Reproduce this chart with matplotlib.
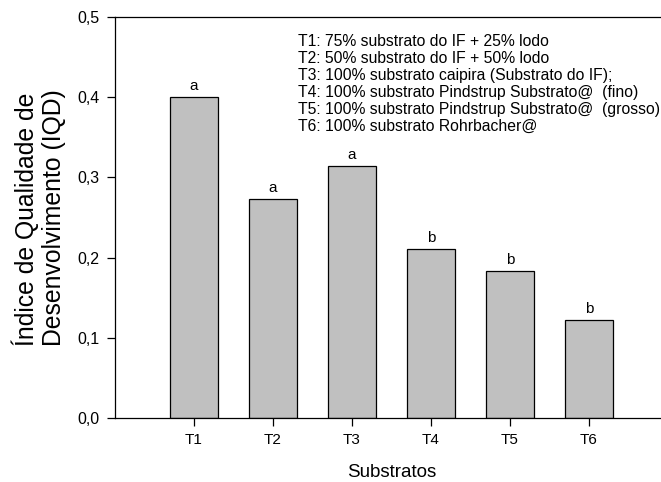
import matplotlib
matplotlib.use("Agg")
import matplotlib.pyplot as plt
import numpy as np

plt.rcParams["font.family"] = ["Liberation Sans", "DejaVu Sans"]

# data
categories = ["T1", "T2", "T3", "T4", "T5", "T6"]
iqd = [0.400, 0.273, 0.314, 0.211, 0.183, 0.122]
letters = ["a", "a", "a", "b", "b", "b"]
legend_lines = [
    "T1: 75% substrato do IF + 25% lodo",
    "T2: 50% substrato do IF + 50% lodo",
    "T3: 100% substrato caipira (Substrato do IF);",
    "T4: 100% substrato Pindstrup Substrato@  (fino)",
    "T5: 100% substrato Pindstrup Substrato@  (grosso)",
    "T6: 100% substrato Rohrbacher@",
]

fig = plt.figure(figsize=(6.61, 4.82), dpi=100)
ax = fig.add_axes([115 / 661, 64 / 482, 553 / 661, 401 / 482])

x = np.arange(1, len(categories) + 1)
ax.bar(x, iqd, width=0.6, color="#c0c0c0", edgecolor="black", linewidth=0.9)

for xi, v, l in zip(x, iqd, letters):
    ax.text(xi, v + 0.005, l, ha="center", va="bottom", fontsize=11)

ax.set_xlim(0, 7)
ax.set_ylim(0, 0.5)
ax.set_xticks(x)
ax.set_xticklabels(categories, fontsize=11)
yt = np.arange(0, 0.51, 0.1)
ax.set_yticks(yt)
ax.set_yticklabels([f"{t:.1f}".replace(".", ",") for t in yt], fontsize=11.5)
ax.tick_params(direction="out", length=6, width=0.9, pad=5)

ax.spines["right"].set_visible(False)
for s in ["left", "bottom", "top"]:
    ax.spines[s].set_linewidth(0.9)

ax.set_xlabel("Substratos", fontsize=13.5, labelpad=12)
ax.set_ylabel("Índice de Qualidade de\nDesenvolvimento (IQD)", fontsize=17.8,
              multialignment="left")
ax.yaxis.set_label_coords(-0.088, 0.5)

ax.text(2.32, 0.479, "\n".join(legend_lines), ha="left", va="top", fontsize=11.3,
        linespacing=1.17)

fig.savefig("out.png", dpi=100)
